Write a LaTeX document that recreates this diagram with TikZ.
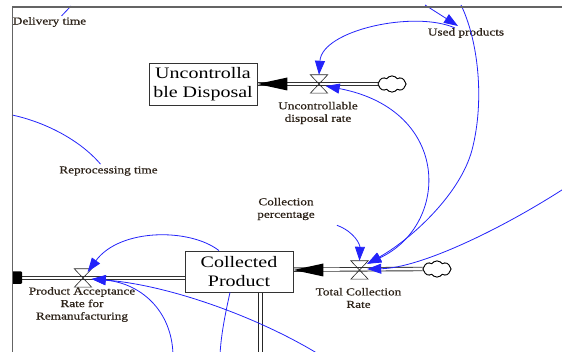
\documentclass[tikz,border=0pt]{standalone}
\usepackage{fontspec}
\setmainfont{Liberation Serif}
\newfontfamily\vfont[FakeStretch=1.25]{Liberation Serif}
\newfontfamily\lfont[FakeStretch=1.25,FakeBold=0.7]{Liberation Serif}
\usetikzlibrary{arrows.meta,calc,shapes.symbols}
\definecolor{linkblue}{RGB}{35,35,250}
\definecolor{labelink}{RGB}{45,35,25}
\definecolor{framegray}{RGB}{100,100,100}
\tikzset{
  stock/.style={draw=black!80, line width=0.8, fill=white, minimum width=108,
    minimum height=42, inner sep=0, align=center,
    font=\vfont\fontsize{16}{18.5}\selectfont},
  varlabel/.style={text=labelink, align=center, inner sep=0,
    font=\lfont\fontsize{10.6}{12.5}\selectfont},
  valvept/.style={minimum width=17, minimum height=18, inner sep=0},
  valveline/.style={draw=black!85, line width=0.6},
  pipe/.style={draw=black!80, double=white, double distance=2.6, line width=0.9},
  vpipe/.style={draw=black!85, double=white, double distance=3.6, line width=0.8},
  linkplain/.style={draw=linkblue, line width=0.8},
  link/.style={linkplain, -{Triangle[length=14,width=10]}},
  sink/.style={cloud, cloud puffs=8, cloud puff arc=110, cloud ignores aspect,
    draw, line width=0.8, minimum width=28, minimum height=16, inner sep=0, fill=white},
}
\begin{document}
\begin{tikzpicture}[x=1pt,y=-1pt]
\useasboundingbox (0,0) rectangle (562,352);
\clip (0,0) rectangle (562,352);

% stocks, valves and clouds
\node[valvept] (udv) at (319,84) {};
\node[valvept] (tcr) at (359.5,270) {};
\node[valvept] (par) at (83,278) {};
\node[sink] (s1) at (392,84) {};
\node[sink] (s2) at (437,269) {};
\coordinate (outflow) at (12,278);

% pipes
\draw[pipe] (s1.west) -- (203,84);
\draw[pipe] (s2.west) -- (239,270);
\draw[pipe] (239,278) -- (outflow);
\draw[vpipe] (260.3,292) -- (260.3,360);
\node[sink] at (s1) {};
\node[sink] at (s2) {};

\node[stock] (ud) at (203,84) {Uncontrolla\\ble Disposal};
\node[stock, minimum height=41] (cp) at (239,271.5) {Collected\\Product};

% flow heads
\fill (ud.east) -- ++(30,-6.5) -- ++(0,13) -- cycle;
\fill (cp.east |- tcr) -- ++(30,-6.5) -- ++(0,13) -- cycle;
\fill[rounded corners=1] ($(outflow)+(0,-6.5)$) rectangle ($(outflow)+(10,6)$);

% valves
\foreach \v in {udv,tcr,par}
  \draw[valveline] (\v.north west) -- (\v.north east) -- (\v.south west) -- (\v.south east) -- cycle;

% variable names
\node[varlabel] (deliv) at (49.5,22) {Delivery time};
\node[varlabel] (used) at (466,33) {Used products};
\node[varlabel] (udlab) at (318,113) {Uncontrollable\\disposal rate};
\node[varlabel] (reproc) at (108.5,171) {Reprocessing time};
\node[varlabel] (colpct) at (286,209) {Collection\\percentage};
\node[varlabel] (tcrlab) at (358.5,298) {Total Collection\\Rate};
\node[varlabel] (parlab) at (82,304.5) {Product Acceptance\\Rate for\\Remanufacturing};

% links
\coordinate (topA) at (425,5);
\coordinate (topD) at (461,5);
\coordinate (rightE) at (565,188);
\coordinate (botH) at (173,355);
\coordinate (botI) at (320,355);
\coordinate (botJ) at (220,355);
\coordinate (leftK) at (12,115);
\coordinate (topL) at (71,6);

\draw[link] (topA) -- ($(used.north)+(-8,-2)$);
\draw[link] ($(used.north)+(-11,0)$) .. controls (415,10) and (322,30) .. (udv.north);
\draw[linkplain, {Triangle[length=14,width=10]}-{Triangle[length=14,width=10]}]
  ($(tcr.north east)+(-1,3)$) .. controls (450,225) and (452,110) .. ($(udv.east)+(-2,2)$);
\draw[link] (topD) .. controls (478,40) and (485,100) .. (472,150)
  .. controls (460,195) and (410,240) .. ($(tcr.north east)+(-1,3)$);
\draw[link] (rightE) .. controls (500,230) and (420,268) .. ($(tcr.east)+(-1,-1)$);
\draw[link] ($(colpct.south east)+(22,5)$) .. controls (355,232) and (360,245) .. (tcr.north);
\draw[link] ($(cp.north)+(-20,0)$) .. controls (190,228) and (120,228) .. ($(par.north east)+(-4,3)$);
\draw[link] (botH) .. controls (172,310) and (140,283) .. ($(par.east)+(0,1)$);
\draw[link] (botI) .. controls (260,318) and (170,285) .. ($(par.east)+(0,1)$);
\draw[linkplain] ($(cp.south)+(-9,0)$) .. controls (225,315) and (221,335) .. (botJ);
\draw[linkplain] (leftK) .. controls (45,122) and (80,140) .. ($(reproc.north)+(-8,-2)$);
\draw[linkplain] ($(deliv.north)+(12,-1)$) -- (topL);

% frame
\draw[framegray, line width=1.5] (12.5,360) -- (12.5,7) -- (565,7);
\end{tikzpicture}
\end{document}
